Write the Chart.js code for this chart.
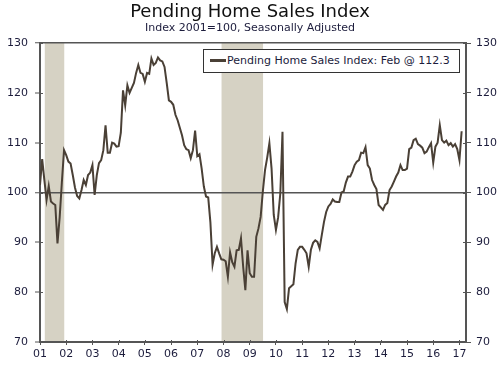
<!DOCTYPE html>
<html>
<head>
<meta charset="utf-8">
<script src="https://cdn.jsdelivr.net/npm/chart.js@4/dist/chart.umd.min.js"></script>
<style>
  html, body { margin: 0; padding: 0; background: #fff; }
  #wrap { position: relative; width: 500px; height: 366px; font-family: "DejaVu Sans", Verdana, sans-serif; }
  #title { position: absolute; left: 0; width: 500px; top: 1px; text-align: center; font-size: 18px; color: #111; line-height: 20px; }
  #subtitle { position: absolute; left: 0; width: 500px; top: 21px; text-align: center; font-size: 11px; color: #1c1c3c; line-height: 13px; }
  #legend { position: absolute; left: 203px; top: 49px; width: 255px; height: 22px; border: 1px solid #333; background: #fff; box-sizing: content-box; font-size: 11px; color: #1c1c3c; line-height: 22px; white-space: nowrap; }
  #legend .sw { display: inline-block; width: 16px; height: 3px; background: #4a4036; vertical-align: middle; margin-left: 6px; margin-right: 1px; position: relative; top: -1px; }
  canvas { position: absolute; left: 0; top: 0; }
</style>
</head>
<body>
<div id="wrap">
  <canvas id="c" width="500" height="366"></canvas>
  <div id="title">Pending Home Sales Index</div>
  <div id="subtitle">Index 2001=100, Seasonally Adjusted</div>
  <div id="legend"><span class="sw"></span>Pending Home Sales Index: Feb @ 112.3</div>
</div>
<script>
// Monthly values, Jan 2001 .. Feb 2017
const y2001 = [101.5,106.7,102.5,98.5,101.3,98.2,97.8,97.5,89.8,95,102,108.5];
const y2002 = [107.5,106.2,105.8,103.5,101,99.3,98.8,100.5,102.5,101.5,103.5,104];
const y2003 = [105.5,99.5,103.5,105.9,106.5,108.5,113.5,108,108,110,109.8,109.2];
const y2004 = [109.3,112,120.5,117.5,121.5,120,121,122,124,125.6,124,123.8];
const y2005 = [122.2,124,123.8,126.9,125.6,126,127.1,126.5,126.3,125.2,122,118.5];
const y2006 = [118.2,117.6,115.6,114.5,113,111.5,109.5,108.7,108.5,106.9,108.5,112.4];
const y2007 = [107.3,107.7,104.8,101.2,99.2,99,94,85.5,87.8,89.1,87.8,86.6];
const y2008 = [86.5,86.2,83.1,88,86,85.1,88.4,88.5,90.8,85.1,80.4,88.4];
const y2009 = [83.8,83.1,83.1,91.1,92.8,95.1,100.2,104.5,107,109.9,104.8,95.5];
const y2010 = [92.5,95,99.8,112.2,78,76.6,80.8,81.2,81.6,85.8,88.5,89.1];
const y2011 = [89.1,88.5,87.8,85.1,88.5,89.9,90.4,90.1,88.8,91.5,94.1,96.1];
const y2012 = [97.2,97.7,98.6,98.2,98.1,98.1,100,100.2,102,103.2,103.2,104.2];
const y2013 = [105.5,106.2,106.5,108,107.9,109.1,105.5,104.8,102.5,101.5,100.7,97.5];
const y2014 = [97,96.5,97.5,97.9,100.5,101.2,102.2,103.2,104,105.5,104.5,104.5];
const y2015 = [104.8,108.7,109,110.5,110.8,109.7,109.4,109,107.9,108.2,109.1,109.9];
const y2016 = [106,109.2,110,113.5,110.5,110,110.4,109.5,109.9,109.2,109.7,108.7];
const y2017 = [106.5,112.3];

const yearLabels = ["01","02","03","04","05","06","07","08","09","10","11","12","13","14","15","16","17"];
const yTicks = [70,80,90,100,110,120,130];
// recession periods in month index (0 = Jan 2001)
const recessions = [[2.2, 11.1], [83.1, 102.1]];

const values = [].concat(y2001,y2002,y2003,y2004,y2005,y2006,y2007,y2008,y2009,y2010,y2011,y2012,y2013,y2014,y2015,y2016,y2017);
const points = values.map((v, i) => ({x: i, y: v}));

const AXIS = '#555555';
const TXT = '#1c1c3c';
const font = {family: '"DejaVu Sans", Verdana, sans-serif', size: 11};

const bandsPlugin = {
  id: 'bands',
  beforeDraw(chart) {
    const {ctx, chartArea, scales} = chart;
    ctx.save();
    ctx.fillStyle = '#d6d2c4';
    recessions.forEach(([a, b]) => {
      const x1 = scales.x.getPixelForValue(a), x2 = scales.x.getPixelForValue(b);
      ctx.fillRect(x1, chartArea.top, x2 - x1, chartArea.bottom - chartArea.top);
    });
    ctx.restore();
  },
  afterDraw(chart) {
    const {ctx, chartArea, scales} = chart;
    ctx.save();
    ctx.strokeStyle = AXIS;
    ctx.lineWidth = 1;
    ctx.beginPath();
    yTicks.forEach(v => {
      const p = Math.round(scales.y.getPixelForValue(v)) + 0.5;
      ctx.moveTo(chartArea.left, p); ctx.lineTo(chartArea.left + 3, p);
      ctx.moveTo(chartArea.right, p); ctx.lineTo(chartArea.right - 3, p);
    });
    yearLabels.forEach((l, i) => {
      const p = Math.round(scales.x.getPixelForValue(i * 12)) + 0.5;
      ctx.moveTo(p, chartArea.bottom); ctx.lineTo(p, chartArea.bottom - 2);
    });
    ctx.stroke();
    ctx.restore();
  }
};

new Chart(document.getElementById('c'), {
  type: 'line',
  data: {
    datasets: [{
      data: points,
      borderColor: '#4a4036',
      borderWidth: 2,
      pointRadius: 0,
      tension: 0,
      fill: false
    }]
  },
  options: {
    responsive: false,
    animation: false,
    devicePixelRatio: 1,
    layout: {padding: {top: 43, left: 0, right: 0, bottom: 0}},
    plugins: {legend: {display: false}, tooltip: {enabled: false}},
    scales: {
      x: {
        type: 'linear', min: 0, max: 195, position: 'bottom',
        afterFit: s => { s.height = 24; },
        afterBuildTicks: s => { s.ticks = yearLabels.map((l, i) => ({value: i * 12})); },
        ticks: {
          autoSkip: false, maxRotation: 0, padding: 3, color: TXT, font,
          callback: (v) => yearLabels[Math.round(v / 12)]
        },
        grid: {drawOnChartArea: false, drawTicks: true, tickLength: 3, color: AXIS, lineWidth: 1},
        border: {display: true, color: AXIS, width: 2}
      },
      y: {
        type: 'linear', min: 70, max: 130, position: 'left',
        afterFit: s => { s.width = 40; },
        afterBuildTicks: s => { s.ticks = yTicks.map(v => ({value: v})); },
        ticks: {padding: 7, color: TXT, font},
        grid: {
          drawOnChartArea: true, drawTicks: true, tickLength: 5,
          color: c => (c.tick && (c.tick.value === 100 || c.tick.value === 130)) ? AXIS : 'rgba(0,0,0,0)',
          lineWidth: c => (c.tick && (c.tick.value === 100 || c.tick.value === 130)) ? 1.5 : 0,
          tickColor: AXIS, tickWidth: 1
        },
        border: {display: true, color: AXIS, width: 2}
      },
      y2: {
        type: 'linear', min: 70, max: 130, position: 'right',
        afterFit: s => { s.width = 34; },
        afterBuildTicks: s => { s.ticks = yTicks.map(v => ({value: v})); },
        ticks: {padding: 5, color: TXT, font},
        grid: {drawOnChartArea: false, drawTicks: true, tickLength: 5, color: AXIS, tickColor: AXIS, tickWidth: 1},
        border: {display: true, color: AXIS, width: 2}
      }
    }
  },
  plugins: [bandsPlugin]
});
</script>
</body>
</html>
